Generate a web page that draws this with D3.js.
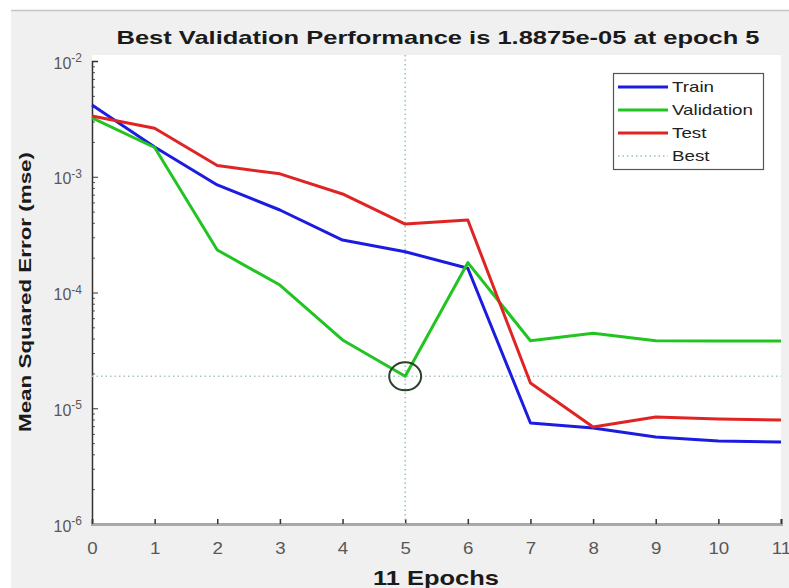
<!DOCTYPE html>
<html>
<head>
<meta charset="utf-8">
<script src="https://cdn.jsdelivr.net/npm/d3@7"></script>
<style>
  body { margin: 0; background: #fff; }
  svg { display: block; font-family: "Liberation Sans", Arial, sans-serif; }
</style>
</head>
<body>
<div id="chart"></div>
<script>
var epochs = [0, 1, 2, 3, 4, 5, 6, 7, 8, 9, 10, 11];
var trainPerf = [4.17e-3, 1.81e-3, 8.5e-4, 5.16e-4, 2.84e-4, 2.25e-4, 1.62e-4, 7.46e-6, 6.75e-6, 5.65e-6, 5.21e-6, 5.12e-6];
var valPerf = [3.22e-3, 1.79e-3, 2.33e-4, 1.16e-4, 3.89e-5, 1.8875e-5, 1.81e-4, 3.83e-5, 4.44e-5, 3.83e-5, 3.82e-5, 3.82e-5];
var testPerf = [3.35e-3, 2.62e-3, 1.25e-3, 1.06e-3, 7.1e-4, 3.9e-4, 4.23e-4, 1.65e-5, 6.89e-6, 8.4e-6, 8.07e-6, 7.91e-6];
var bestEpoch = 5;
var bestPerf = 1.8875e-5;
var yMajor = [1e-6, 1e-5, 1e-4, 1e-3, 1e-2];
var seriesNames = ["Train", "Validation", "Test", "Best"];

var W = 789, H = 588;
var margin = { top: 61, right: 8, bottom: 64, left: 92 },
    width = W - margin.left - margin.right,
    height = H - margin.top - margin.bottom;

var x = d3.scaleLinear().domain([0, 11]).range([0, width]);
var y = d3.scaleLog().domain([1e-6, 1e-2]).range([height, 0]);

var colors = { Train: "#1c1ce0", Validation: "#22c422", Test: "#e02424", Best: "#8cc4bc" };

// stretch text horizontally a bit, the reference is wider than normal
function stretch(sel, k) {
    sel.each(function() {
        var w = this.getComputedTextLength();
        d3.select(this).attr("textLength", w * k).attr("lengthAdjust", "spacingAndGlyphs");
    });
}

var svg = d3.select("#chart").append("svg")
    .attr("width", W)
    .attr("height", H);

// figure background
svg.append("rect").attr("x", 11).attr("y", 10).attr("width", W - 11).attr("height", H - 10)
    .attr("fill", "#f0f0f0");
svg.append("line").attr("x1", 11).attr("x2", W).attr("y1", 10.5).attr("y2", 10.5)
    .attr("stroke", "#c4c4c4").attr("stroke-width", 1.5);

var g = svg.append("g")
    .attr("transform", "translate(" + margin.left + "," + margin.top + ")");

g.append("rect").attr("x", 0).attr("y", -6).attr("width", width).attr("height", height + 6)
    .attr("fill", "#fff");

// minor ticks
var minor = [];
for (var k = -6; k < -2; k++) {
    for (var m = 2; m < 10; m++) minor.push(m * Math.pow(10, k));
}
g.append("g")
    .attr("class", "y minor")
    .call(d3.axisLeft(y).tickValues(minor).tickSize(-3).tickFormat(""))
    .call(function(a) {
        a.select(".domain").remove();
        a.selectAll("line").attr("stroke", "#555");
    });

var yAx = g.append("g")
    .attr("class", "y axis")
    .call(d3.axisLeft(y).tickValues(yMajor).tickSize(-6).tickPadding(10).tickFormat(function() { return "10"; }));
yAx.select(".domain").attr("stroke", "#333").attr("stroke-width", 1.5);
yAx.selectAll(".tick line").attr("stroke", "#333");
yAx.selectAll(".tick text")
    .attr("fill", "#585858")
    .style("font-size", "16px")
    .attr("dy", "0.45em")
    .each(function(d) {
        var t = d3.select(this);
        t.text("10");
        t.append("tspan")
            .attr("dy", "-0.55em")
            .style("font-size", "12px")
            .text(Math.round(Math.log10(d)));
    });

var xAx = g.append("g")
    .attr("class", "x axis")
    .attr("transform", "translate(0," + height + ")")
    .call(d3.axisBottom(x).tickValues(epochs).tickSize(-5).tickPadding(18).tickFormat(d3.format("d")));
xAx.select(".domain").attr("stroke", "#a8a8a8").attr("stroke-width", 3);
xAx.selectAll(".tick line").attr("stroke", "#333").attr("stroke-width", 1.5);
xAx.selectAll(".tick text")
    .attr("fill", "#585858")
    .style("font-size", "17px")
    .call(stretch, 1.1);

// best lines
g.append("line")
    .attr("x1", x(bestEpoch)).attr("x2", x(bestEpoch))
    .attr("y1", -6).attr("y2", height)
    .attr("stroke", colors.Best).attr("stroke-width", 1.5).attr("stroke-dasharray", "1.5,3");
g.append("line")
    .attr("x1", 0).attr("x2", width)
    .attr("y1", y(bestPerf)).attr("y2", y(bestPerf))
    .attr("stroke", "#a8c4c0").attr("stroke-width", 1.5).attr("stroke-dasharray", "1.5,3");

var line = d3.line()
    .x(function(d, i) { return x(epochs[i]); })
    .y(function(d) { return y(d); });

[["Train", trainPerf], ["Validation", valPerf], ["Test", testPerf]].forEach(function(s) {
    g.append("path")
        .datum(s[1])
        .attr("fill", "none")
        .attr("stroke", colors[s[0]])
        .attr("stroke-width", 3)
        .attr("stroke-linejoin", "round")
        .attr("d", line);
});

g.append("ellipse")
    .attr("cx", x(bestEpoch))
    .attr("cy", y(bestPerf))
    .attr("rx", 16).attr("ry", 14)
    .attr("fill", "none")
    .attr("stroke", "#2c402c")
    .attr("stroke-width", 2);

// legend
var lg = svg.append("g").attr("transform", "translate(613,73)");
lg.append("rect").attr("x", 0.5).attr("y", 0.5).attr("width", 150).attr("height", 96)
    .attr("fill", "#fff").attr("stroke", "#555").attr("stroke-width", 1.2);
var item = lg.selectAll(".legend-item")
    .data(seriesNames)
    .enter().append("g")
    .attr("class", "legend-item")
    .attr("transform", function(d, i) { return "translate(0," + (14 + i * 23) + ")"; });
item.append("line")
    .attr("x1", 5).attr("x2", 55)
    .attr("stroke", function(d) { return colors[d]; })
    .attr("stroke-width", function(d) { return d == "Best" ? 1.5 : 3; })
    .attr("stroke-dasharray", function(d) { return d == "Best" ? "1.5,3" : null; });
item.append("text")
    .attr("x", 59)
    .attr("dy", "0.36em")
    .style("font-size", "15px")
    .attr("fill", "#222")
    .text(function(d) { return d; })
    .call(stretch, 1.25);

// titles
svg.append("text")
    .attr("x", 438).attr("y", 44)
    .attr("text-anchor", "middle")
    .style("font-size", "19px").style("font-weight", "bold")
    .attr("fill", "#1a1a1a")
    .attr("textLength", 643).attr("lengthAdjust", "spacingAndGlyphs")
    .text("Best Validation Performance is 1.8875e-05 at epoch 5");

svg.append("text")
    .attr("x", 436).attr("y", 585)
    .attr("text-anchor", "middle")
    .style("font-size", "21px").style("font-weight", "bold")
    .attr("fill", "#1a1a1a")
    .attr("textLength", 126).attr("lengthAdjust", "spacingAndGlyphs")
    .text("11 Epochs");

svg.append("text")
    .attr("transform", "translate(31,292) rotate(-90)")
    .attr("text-anchor", "middle")
    .style("font-size", "17px").style("font-weight", "bold")
    .attr("fill", "#1a1a1a")
    .attr("textLength", 280).attr("lengthAdjust", "spacingAndGlyphs")
    .text("Mean Squared Error  (mse)");
</script>
</body>
</html>
